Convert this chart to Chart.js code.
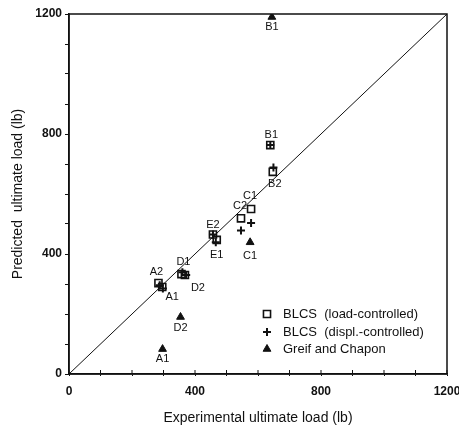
<!DOCTYPE html>
<html><head><meta charset="utf-8">
<script src="https://cdn.jsdelivr.net/npm/chart.js@4/dist/chart.umd.min.js"></script>
<style>html,body{margin:0;padding:0;background:#fff}#w{width:459px;height:427px}</style>
</head><body><div id="w"><canvas id="c"></canvas></div>
<script>
// ---- data ----
const tickLabels = [0, 400, 800, 1200];
const loadX = [284, 296, 357, 368, 457, 469, 546, 578, 639, 647];
const loadY = [303, 290, 333, 330, 465, 447, 519, 550, 763, 674];
const loadNames = ['A2', 'A1', 'D1', 'D2', 'E2', 'E1', 'C2', 'C1', 'B1', 'B2'];
const displX = [288, 298, 360, 372, 457, 466, 546, 578, 639, 649];
const displY = [296, 285, 339, 330, 465, 439, 478, 503, 763, 688];
const greifX = [297, 354, 575, 644];
const greifY = [83, 190, 439, 1190];
const greifNames = ['A1', 'D2', 'C1', 'B1'];
const lineX = [0, 1200];
const lineY = [0, 1200];
const seriesNames = ['BLCS  (load-controlled)', 'BLCS  (displ.-controlled)', 'Greif and Chapon'];

// ---- label offsets (styling) ----
const loadOff = [[-2,-11],[10,10],[2,-12],[13,13],[0,-10],[0,15],[-1,-12],[-1,-13],[1,-10],[2,12]];
const greifOff = [[0,10],[0,11],[0,14],[0,10]];

const INK = '#111';
const pts = (xs, ys) => xs.map((x, i) => ({x, y: ys[i]}));

const labelPlugin = {
  id: 'pointLabels',
  afterDatasetsDraw(chart) {
    const ctx = chart.ctx;
    ctx.save();
    ctx.fillStyle = INK;
    ctx.font = '11px "Liberation Sans", Arial, sans-serif';
    ctx.textAlign = 'center';
    ctx.textBaseline = 'middle';
    const draw = (dsIndex, names, offs) => {
      const meta = chart.getDatasetMeta(dsIndex);
      meta.data.forEach((el, i) => {
        ctx.fillText(names[i], el.x + offs[i][0], el.y + offs[i][1]);
      });
    };
    draw(1, loadNames, loadOff);
    draw(3, greifNames, greifOff);
    ctx.restore();
  }
};

const framePlugin = {
  id: 'frame',
  afterDraw(chart) {
    const {ctx, chartArea: a} = chart;
    ctx.save();
    ctx.strokeStyle = INK;
    ctx.lineWidth = 1.5;
    ctx.strokeRect(a.left, a.top, a.right - a.left, a.bottom - a.top);
    // inward x ticks
    const xs = chart.scales.x;
    ctx.lineWidth = 1;
    ctx.beginPath();
    xs.ticks.forEach(t => {
      const px = xs.getPixelForValue(t.value);
      ctx.moveTo(px, a.bottom); ctx.lineTo(px, a.bottom - 4);
    });
    ctx.stroke();
    // legend
    const lx = 267, tx = 283, rows = [314, 332, 349];
    ctx.font = '13px "Liberation Sans", Arial, sans-serif';
    ctx.textBaseline = 'middle';
    ctx.textAlign = 'left';
    [1, 2, 3].forEach((d, i) => {
      const ds = chart.data.datasets[d];
      ctx.strokeStyle = INK; ctx.fillStyle = ds.pointBackgroundColor;
      ctx.lineWidth = ds.pointBorderWidth;
      Chart.helpers.drawPoint(ctx, {pointStyle: ds.pointStyle, radius: ds.pointRadius, rotation: 0, borderWidth: ds.pointBorderWidth}, lx, rows[i]);
      ctx.fillStyle = INK;
      ctx.fillText(seriesNames[i], tx, rows[i]);
    });
    ctx.restore();
  }
};

new Chart(document.getElementById('c'), {
  type: 'scatter',
  data: {
    datasets: [
      {label: 'y = x', data: pts(lineX, lineY), showLine: true, pointRadius: 0, borderColor: INK, borderWidth: 1, order: 4},
      {label: seriesNames[0], data: pts(loadX, loadY), pointStyle: 'rect', pointRadius: 5, pointBorderWidth: 1.6, pointBorderColor: INK, pointBackgroundColor: 'rgba(255,255,255,0)', order: 1},
      {label: seriesNames[1], data: pts(displX, displY), pointStyle: 'cross', pointRadius: 4, pointBorderWidth: 2, pointBorderColor: INK, pointBackgroundColor: INK, order: 2},
      {label: seriesNames[2], data: pts(greifX, greifY), pointStyle: 'triangle', pointRadius: 4.5, pointBorderWidth: 1, pointBorderColor: INK, pointBackgroundColor: INK, order: 3}
    ]
  },
  options: {
    responsive: true, maintainAspectRatio: false, animation: false,
    layout: {padding: {top: 14, right: 12, left: 0, bottom: 0}},
    plugins: {legend: {display: false}, tooltip: {enabled: false}},
    scales: {
      x: {
        type: 'linear', min: 0, max: 1200,
        afterFit: s => { s.height = 53; s.paddingLeft = 0; s.paddingRight = 0; },
        ticks: {stepSize: 100, autoSkip: false, maxRotation: 0, padding: 8, color: INK,
          font: {family: '"Liberation Sans", Arial, sans-serif', size: 12, weight: 'bold'},
          callback: v => tickLabels.includes(v) ? String(v) : ''},
        grid: {drawOnChartArea: false, drawTicks: true, tickLength: 2, color: INK, lineWidth: 1},
        border: {display: true, color: INK, width: 1.5},
        title: {display: true, text: 'Experimental ultimate load (lb)', color: INK, padding: {top: 13, bottom: 0},
          font: {family: '"Liberation Sans", Arial, sans-serif', size: 14}}
      },
      y: {
        type: 'linear', min: 0, max: 1200,
        afterFit: s => { s.width = 69; s.paddingTop = 0; s.paddingBottom = 0; },
        ticks: {stepSize: 100, autoSkip: false, padding: 3, color: INK,
          font: {family: '"Liberation Sans", Arial, sans-serif', size: 12, weight: 'bold'},
          callback: v => tickLabels.includes(v) ? String(v) : ''},
        grid: {drawOnChartArea: false, drawTicks: true, tickLength: 4, color: INK, lineWidth: 1},
        border: {display: true, color: INK, width: 1.5},
        title: {display: true, text: 'Predicted  ultimate load (lb)', color: INK, padding: {top: 10, bottom: 0},
          font: {family: '"Liberation Sans", Arial, sans-serif', size: 14}}
      }
    }
  },
  plugins: [labelPlugin, framePlugin]
});
</script>
</body></html>
